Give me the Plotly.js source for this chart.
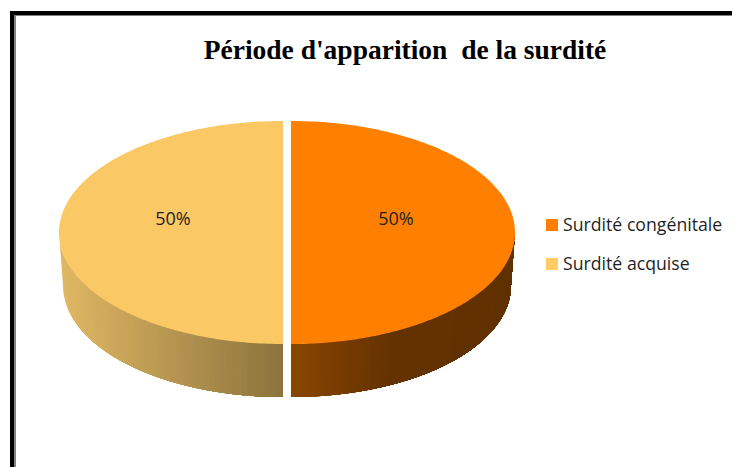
<!DOCTYPE html>
<html>
<head>
<meta charset="utf-8">
<script src="https://cdn.plot.ly/plotly-3.0.1.min.js"></script>
<style>html,body{margin:0;padding:0;background:#fff;overflow:hidden}</style>
</head>
<body>
<div id="chart" style="width:732px;height:467px"></div>
<script>
var chartTitle = "Période d'apparition  de la surdité";
var categories = ["Surdité congénitale", "Surdité acquise"];
var values = [50, 50];
var topColors = ["#FF8000", "#FAC864"];
var legendColors = ["#FF8000", "#FFCC66"];
// side gradient, left to right across each slice: [position, r, g, b]
var sideRamps = [
  [[0, 138, 70, 0], [0.45, 99, 50, 0], [1, 96, 49, 0]],
  [[0, 224, 184, 100], [1, 140, 115, 61]]
];

var W = 732, H = 467;
var G = {cx: 287, explode: 4, cy: 232.5, rx: 224, ry: 111.5, depth: 53, rxBottom: 220, labelRx: 111.5, labelY: 220};
var total = values.reduce(function (a, b) { return a + b; }, 0);

function pt(cx, rx, cy, th) { return [cx + rx * Math.sin(th), cy - G.ry * Math.cos(th)]; }
function rampColor(r, t) {
  for (var i = 1; i < r.length; i++) {
    if (t <= r[i][0] || i === r.length - 1) {
      var a = r[i - 1], b = r[i], f = Math.min(1, Math.max(0, (t - a[0]) / (b[0] - a[0])));
      return "rgb(" + [1, 2, 3].map(function (k) { return Math.round(a[k] + (b[k] - a[k]) * f); }).join(",") + ")";
    }
  }
}

var sideTraces = [], topTraces = [], labelTraces = [], legendTraces = [];
var acc = 0;
values.forEach(function (v, i) {
  var a0 = acc / total * 2 * Math.PI;
  acc += v;
  var a1 = acc / total * 2 * Math.PI;
  var mid = (a0 + a1) / 2;
  var cx = G.cx + G.explode * Math.sin(mid);

  // side wall: the viewer-facing arc runs from thRight (rightmost) to thLeft (leftmost)
  var thRight = Math.max(a0, Math.PI / 2), thLeft = Math.min(a1, 1.5 * Math.PI);
  var xA = pt(cx, G.rx, G.cy, thLeft)[0], xB = pt(cx, G.rx, G.cy, thRight)[0];
  var bands = 48, b, s;
  for (b = 0; b < bands; b++) {
    // each band runs from its own x to the right end of the wall; later bands paint over
    var t = b / bands;
    var r = (xA + (xB - xA) * t - cx) / G.rx;
    var th0 = Math.PI - Math.asin(Math.max(-1, Math.min(1, r)));
    var upper = [], lower = [];
    for (s = 0; s <= 40; s++) {
      var th = th0 + (thRight - th0) * s / 40;
      upper.push(pt(cx, G.rx, G.cy, th));
      lower.push(pt(cx, G.rxBottom, G.cy + G.depth, th));
    }
    var poly = upper.concat(lower.reverse());
    sideTraces.push({
      x: poly.map(function (q) { return q[0]; }).concat(poly[0][0]),
      y: poly.map(function (q) { return q[1]; }).concat(poly[0][1]),
      mode: "none", fill: "toself", fillcolor: rampColor(sideRamps[i], t + 0.5 / bands),
      hoverinfo: "skip", showlegend: false
    });
  }

  // top face
  var xs = [cx], ys = [G.cy];
  for (s = 0; s <= 180; s++) {
    var q = pt(cx, G.rx, G.cy, a0 + (a1 - a0) * s / 180);
    xs.push(q[0]); ys.push(q[1]);
  }
  xs.push(cx); ys.push(G.cy);
  topTraces.push({
    x: xs, y: ys, mode: "none", fill: "toself", fillcolor: topColors[i],
    name: categories[i], hoverinfo: "name", showlegend: false
  });

  // percentage label
  labelTraces.push({
    x: [284.5 + G.labelRx * Math.sin(mid)], y: [G.labelY], mode: "text",
    text: [Math.round(v / total * 100) + "%"], textposition: "middle center",
    textfont: {family: "Open Sans", size: 18, color: "#1f1f1f"},
    hoverinfo: "skip", showlegend: false
  });

  // legend entry
  legendTraces.push({
    x: [552], y: [225 + i * 39], mode: "markers",
    marker: {symbol: "square", size: 12, color: legendColors[i]},
    hoverinfo: "skip", showlegend: false
  });
  legendTraces.push({
    x: [563], y: [227 + i * 38.5], mode: "text",
    text: [categories[i]], textposition: "middle right",
    textfont: {family: "Open Sans", size: 17.7, color: "#1f1f1f"},
    hoverinfo: "skip", showlegend: false
  });
});

var frameShapes = [
  {type: "rect", xref: "x", yref: "y", x0: 10, x1: 14, y0: 11, y1: H, fillcolor: "#000", line: {width: 0}},
  {type: "rect", xref: "x", yref: "y", x0: 10, x1: W, y0: 11, y1: 15, fillcolor: "#000", line: {width: 0}},
  {type: "rect", xref: "x", yref: "y", x0: 14, x1: 16, y0: 15, y1: H, fillcolor: "#808080", line: {width: 0}},
  {type: "rect", xref: "x", yref: "y", x0: 14, x1: W, y0: 15, y1: 16, fillcolor: "#808080", line: {width: 0}}
];

var hidden = {visible: false, fixedrange: true};
Plotly.newPlot("chart", sideTraces.concat(topTraces, labelTraces, legendTraces), {
  width: W, height: H,
  margin: {l: 0, r: 0, t: 0, b: 0},
  paper_bgcolor: "#fff", plot_bgcolor: "#fff",
  title: {
    text: chartTitle, x: 405 / W, xanchor: "center", y: 1 - 49.5 / H, yanchor: "middle",
    font: {family: "Liberation Serif", size: 27.5, color: "#000", weight: 700}
  },
  xaxis: Object.assign({range: [0, W]}, hidden),
  yaxis: Object.assign({range: [H, 0]}, hidden),
  shapes: frameShapes,
  showlegend: false
}, {displayModeBar: false, staticPlot: true});
</script>
</body>
</html>
